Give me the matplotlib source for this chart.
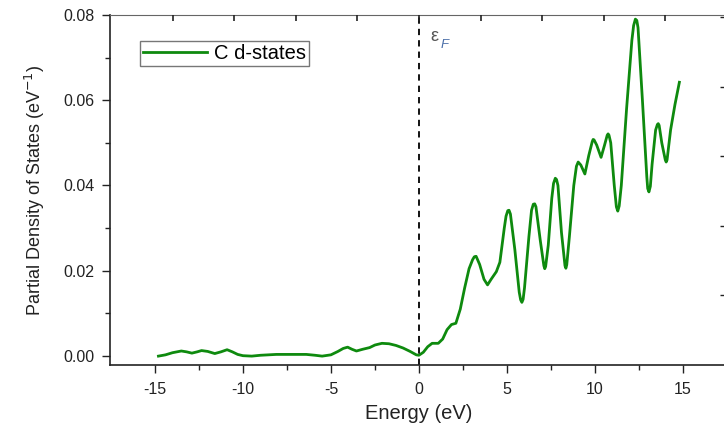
import matplotlib
matplotlib.use("Agg")
import matplotlib.pyplot as plt
import numpy as np

plt.rcParams['font.family'] = ['Liberation Sans', 'DejaVu Sans']

# C d-states PDOS
energy = [-14.8, -14.4, -14.0, -13.5, -13.2, -12.9, -12.6, -12.35, -12.0, -11.6,
          -11.25, -10.9, -10.6, -10.3, -10.0, -9.5, -9.0, -8.1, -7.2, -6.4,
          -5.9, -5.5, -5.0, -4.6, -4.3, -4.05, -3.8, -3.55, -3.2, -2.8,
          -2.5, -2.1, -1.7, -1.3, -0.9, -0.5, -0.15, 0.0, 0.25, 0.5,
          0.75, 1.1, 1.35, 1.6, 1.85, 2.1, 2.35, 2.6, 2.85, 3.05,
          3.15, 3.25, 3.45, 3.7, 3.9, 4.1, 4.4, 4.6, 4.85, 4.95,
          5.05, 5.12, 5.2, 5.45, 5.7, 5.78, 5.85, 5.92, 6.0, 6.25,
          6.4, 6.5, 6.58, 6.65, 6.9, 7.1, 7.15, 7.2, 7.35, 7.55,
          7.65, 7.75, 7.82, 7.9, 8.1, 8.3, 8.35, 8.4, 8.55, 8.8,
          8.95, 9.05, 9.2, 9.43, 9.65, 9.85, 9.9, 9.95, 10.1, 10.35,
          10.55, 10.7, 10.75, 10.8, 10.9, 11.1, 11.22, 11.3, 11.38, 11.5,
          11.8, 12.1, 12.2, 12.3, 12.38, 12.45, 12.7, 12.95, 13.0, 13.07,
          13.15, 13.25, 13.45, 13.55, 13.6, 13.65, 13.8, 14.0, 14.05, 14.1,
          14.3, 14.55, 14.8]
pdos = [0.0000, 0.0003, 0.0008, 0.0012, 0.0010, 0.0007, 0.0010, 0.0013, 0.0011, 0.0006,
        0.0010, 0.0015, 0.0010, 0.0004, 0.0001, 0.0000, 0.0002, 0.0004, 0.0004, 0.0004,
        0.0002, 0.0000, 0.0003, 0.0011, 0.0018, 0.0021, 0.0016, 0.0012, 0.0016, 0.0020,
        0.0026, 0.0030, 0.0029, 0.0025, 0.0019, 0.0011, 0.0003, 0.0002, 0.0009, 0.0022,
        0.0030, 0.0030, 0.0040, 0.0062, 0.0074, 0.0077, 0.0110, 0.0160, 0.0205, 0.0226,
        0.0233, 0.0234, 0.0215, 0.0180, 0.0167, 0.0180, 0.0198, 0.0220, 0.0300, 0.0328,
        0.0341, 0.0342, 0.0333, 0.0250, 0.0150, 0.0132, 0.0126, 0.0133, 0.0160, 0.0280,
        0.0342, 0.0356, 0.0357, 0.0350, 0.0270, 0.0212, 0.0205, 0.0210, 0.0260, 0.0370,
        0.0405, 0.0417, 0.0414, 0.0400, 0.0290, 0.0212, 0.0206, 0.0214, 0.0280, 0.0400,
        0.0445, 0.0455, 0.0448, 0.0427, 0.0470, 0.0503, 0.0508, 0.0507, 0.0495, 0.0466,
        0.0495, 0.0518, 0.0521, 0.0518, 0.0500, 0.0400, 0.0350, 0.0340, 0.0352, 0.0400,
        0.0580, 0.0740, 0.0775, 0.0790, 0.0787, 0.0770, 0.0600, 0.0420, 0.0393, 0.0385,
        0.0398, 0.0450, 0.0530, 0.0543, 0.0545, 0.0541, 0.0500, 0.0460, 0.0455, 0.0460,
        0.0530, 0.0590, 0.0642]

x_ticks = [-15, -10, -5, 0, 5, 10, 15]
y_ticks = [0.00, 0.02, 0.04, 0.06, 0.08]
top_ticks = [-14, -10.5, -7, -3.5, 0, 3.5, 7, 10.5, 14]
right_ticks = [0.0143, 0.0306, 0.0470, 0.0632, 0.0795]

fig = plt.figure(figsize=(7.24, 4.25), dpi=100)
ax = fig.add_axes([0.152, 0.141, 0.852, 0.824])

ax.plot(energy, pdos, color='#0e8a0e', lw=2.0, label='C d-states')
ax.axvline(0, color='black', lw=1.3, ls=(0, (3.5, 2.8)))

ax.set_xlim(-17.55, 17.4)
ax.set_ylim(-0.0021, 0.08)
ax.set_xticks(x_ticks)
ax.set_xticklabels([str(t) for t in x_ticks])
ax.set_xticks(np.arange(-12.5, 17.6, 5), minor=True)
ax.set_yticks(y_ticks)
ax.set_yticklabels(['%.2f' % t for t in y_ticks])
ax.set_yticks([0.01, 0.03, 0.05, 0.07], minor=True)
ax.tick_params(which='major', direction='out', length=6, width=1, labelsize=11.5,
               colors='#222222', pad=5)
ax.tick_params(which='minor', direction='out', length=3.5, width=1, colors='#222222')
ax.tick_params(axis='x', pad=6)

for s in ['left', 'bottom']:
    ax.spines[s].set_linewidth(1.2)
    ax.spines[s].set_color('#222222')
ax.spines['top'].set_color('#666666')
ax.spines['right'].set_color('#666666')

# top and right ticks, no labels
axt = ax.twiny()
axt.set_xlim(ax.get_xlim())
axt.set_xticks(top_ticks)
axt.set_xticklabels([])
axt.tick_params(direction='in', length=4, width=1.2, colors='#222222')
axr = ax.twinx()
axr.set_ylim(ax.get_ylim())
axr.set_yticks(right_ticks)
axr.set_yticklabels([])
axr.tick_params(direction='in', length=5, width=1, colors='#222222')
for a in (axt, axr):
    for s in a.spines.values():
        s.set_visible(False)

ax.text(0.65, 0.0738, 'ε', fontsize=13, color='#555555')
ax.text(1.25, 0.0722, 'F', fontsize=9.5, color='#4a6ea8', style='italic')

ax.set_xlabel('Energy (eV)', fontsize=14.5, color='#222222', labelpad=5)
ax.set_ylabel('Partial Density of States (eV$^{-1}$)', fontsize=13, color='#222222',
              labelpad=12)

leg = ax.legend(loc='upper left', bbox_to_anchor=(0.048, 0.925), fontsize=14.5,
                frameon=True, fancybox=False, edgecolor='#555555', handlelength=3.2,
                borderpad=0.15, handletextpad=0.35, borderaxespad=0)
leg.get_frame().set_linewidth(1.0)

fig.savefig('out.png', dpi=100)
